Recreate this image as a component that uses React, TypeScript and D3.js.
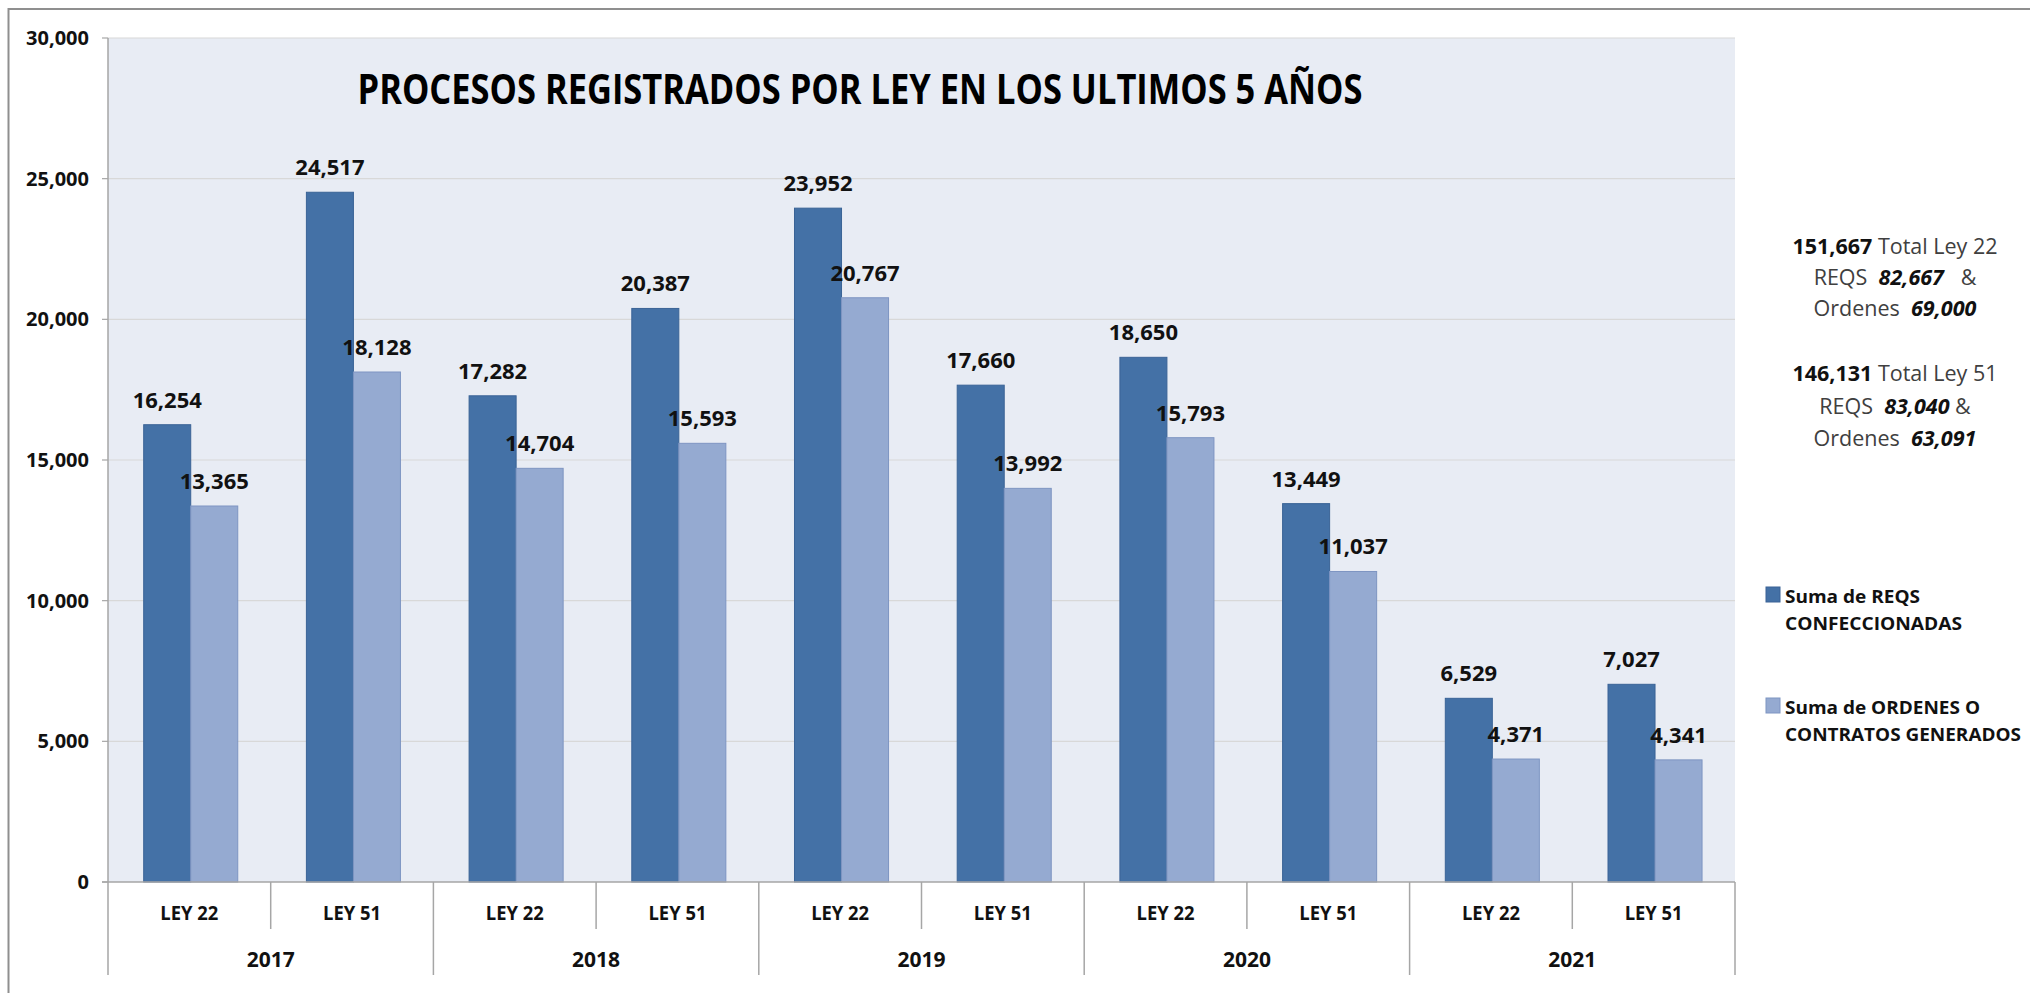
import React from 'react';
import * as d3 from 'd3';

const years = ['2017', '2018', '2019', '2020', '2021'];
const laws = ['LEY 22', 'LEY 51'];
const reqs = [16254, 24517, 17282, 20387, 23952, 17660, 18650, 13449, 6529, 7027];
const ordenes = [13365, 18128, 14704, 15593, 20767, 13992, 15793, 11037, 4371, 4341];
const seriesNames = ['Suma de REQS|CONFECCIONADAS', 'Suma de ORDENES O|CONTRATOS GENERADOS'];
const yTicks = [0, 5000, 10000, 15000, 20000, 25000, 30000];
const title = 'PROCESOS REGISTRADOS POR LEY EN LOS ULTIMOS 5 AÑOS';

const W = 2030, H = 993;
const PL = 108, PR = 1735, PT = 38, PB = 882;
const FONT = "'Open Sans', 'DejaVu Sans', sans-serif";
const DARK = '#4471A6', DARK_S = '#3A6396';
const LIGHT = '#95AAD1', LIGHT_S = '#7E95C2';
const legendWidths = [[135, 177], [195, 236]];

export default function App() {
  const cats = years.flatMap((yr) => laws.map((l) => `${yr}|${l}`));
  const x0 = d3.scaleBand<string>().domain(cats).range([PL, PR]).padding(0);
  const x1 = d3.scaleBand<string>().domain(['r', 'o']).range([0, x0.bandwidth()]).paddingInner(0).paddingOuter(0.73).align(0.52);
  const y = d3.scaleLinear().domain([0, 30000]).range([PB, PT]);
  const fmt = d3.format(',');
  const yearBand = d3.scaleBand<string>().domain(years).range([PL, PR]).padding(0);

  const sumBy = (arr: number[], li: number) => d3.sum(arr.filter((_, i) => i % 2 === li));
  const notes = laws.map((l, li) => {
    const r = sumBy(reqs, li), o = sumBy(ordenes, li);
    return { total: r + o, r, o, name: l.replace('LEY', 'Ley') };
  });

  const labelFill = '#111';
  const regFill = '#404040';

  return (
    <svg width={W} height={H} style={{ position: 'absolute', left: 0, top: 0, background: '#fff' }} fontFamily={FONT}>
      <rect x={0} y={0} width={W} height={H} fill="#fff" />
      <rect x={8.5} y={9} width={W + 20} height={H + 20} fill="#fff" stroke="#8f8f8f" strokeWidth={2} />
      {/* plot area */}
      <rect x={PL} y={PT} width={PR - PL} height={PB - PT} fill="#E8ECF4" />
      {yTicks.map((t) => (
        <g key={t}>
          {t > 0 && <line x1={PL} x2={PR} y1={y(t)} y2={y(t)} stroke="#D8D8D8" strokeWidth={1.2} />}
          <line x1={PL - 6} x2={PL} y1={y(t)} y2={y(t)} stroke="#A6A6A6" strokeWidth={1.2} />
          <text x={89} y={y(t) + 7} textAnchor="end" fontSize={20} fontWeight="bold" fill={labelFill}>{fmt(t)}</text>
        </g>
      ))}
      <line x1={PL} x2={PL} y1={PT} y2={PB} stroke="#A6A6A6" strokeWidth={1.5} />
      {/* bars */}
      {cats.map((c, i) => {
        const gx = x0(c)!;
        const bw = x1.bandwidth();
        const items = [
          { k: 'r', v: reqs[i], f: DARK, s: DARK_S },
          { k: 'o', v: ordenes[i], f: LIGHT, s: LIGHT_S },
        ];
        return (
          <g key={c}>
            {items.map((it) => {
              const bx = gx + x1(it.k)!;
              return (
                <g key={it.k}>
                  <rect x={bx} y={y(it.v)} width={bw} height={PB - y(it.v)} fill={it.f} stroke={it.s} strokeWidth={1} />
                  <text x={bx + bw / 2} y={y(it.v) - 17} textAnchor="middle" fontSize={22} fontWeight="bold" fill={labelFill}>{fmt(it.v)}</text>
                </g>
              );
            })}
          </g>
        );
      })}
      {/* x axis */}
      <line x1={PL - 6} x2={PR} y1={PB} y2={PB} stroke="#A6A6A6" strokeWidth={1.5} />
      {cats.map((c, i) => {
        const gx = x0(c)!;
        const isYearStart = i % 2 === 0;
        return (
          <g key={'ax' + c}>
            <line x1={gx} x2={gx} y1={PB} y2={isYearStart ? 975 : 929} stroke="#A6A6A6" strokeWidth={1.5} />
            <text x={gx + x0.bandwidth() / 2} y={920} textAnchor="middle" fontSize={20} fontWeight="bold" fill={labelFill} textLength={58} lengthAdjust="spacingAndGlyphs">{c.split('|')[1]}</text>
          </g>
        );
      })}
      <line x1={PR} x2={PR} y1={PB} y2={975} stroke="#A6A6A6" strokeWidth={1.5} />
      {years.map((yr) => (
        <text key={yr} x={yearBand(yr)! + yearBand.bandwidth() / 2} y={967} textAnchor="middle" fontSize={21} fontWeight="bold" fill={labelFill}>{yr}</text>
      ))}
      {/* title */}
      <text x={860} y={104} textAnchor="middle" fontSize={42} fontWeight="bold" fill="#000" textLength={1005} lengthAdjust="spacingAndGlyphs">{title}</text>
      {/* notes */}
      {notes.map((n, k) => {
        const base = k === 0 ? 254 : 381;
        const step = k === 0 ? 31 : 32.5;
        return (
          <text key={k} textAnchor="middle" fontSize={21.5} fill={regFill} style={{ whiteSpace: 'pre' }}>
            <tspan x={1895} y={base}><tspan fontWeight="bold" fill={labelFill}>{fmt(n.total)}</tspan> Total {n.name}</tspan>
            <tspan x={1895} y={base + step}>{'REQS  '}<tspan fontWeight="bold" fontStyle="italic" fill={labelFill}>{fmt(n.r)}</tspan>{k === 0 ? '   &' : ' &'}</tspan>
            <tspan x={1895} y={base + step * 2}>{'Ordenes  '}<tspan fontWeight="bold" fontStyle="italic" fill={labelFill}>{fmt(n.o)}</tspan></tspan>
          </text>
        );
      })}
      {/* legend */}
      {seriesNames.map((s, k) => {
        const top = k === 0 ? 587 : 698;
        const [l1, l2] = s.split('|');
        return (
          <g key={s}>
            <rect x={1766} y={top} width={14} height={15} fill={k === 0 ? DARK : LIGHT} stroke={k === 0 ? DARK_S : LIGHT_S} />
            <text x={1785} y={top + 16} fontSize={18.6} fontWeight="bold" fill={labelFill} textLength={legendWidths[k][0]} lengthAdjust="spacingAndGlyphs">{l1}</text>
            <text x={1785} y={top + 43} fontSize={18.6} fontWeight="bold" fill={labelFill} textLength={legendWidths[k][1]} lengthAdjust="spacingAndGlyphs">{l2}</text>
          </g>
        );
      })}
    </svg>
  );
}
